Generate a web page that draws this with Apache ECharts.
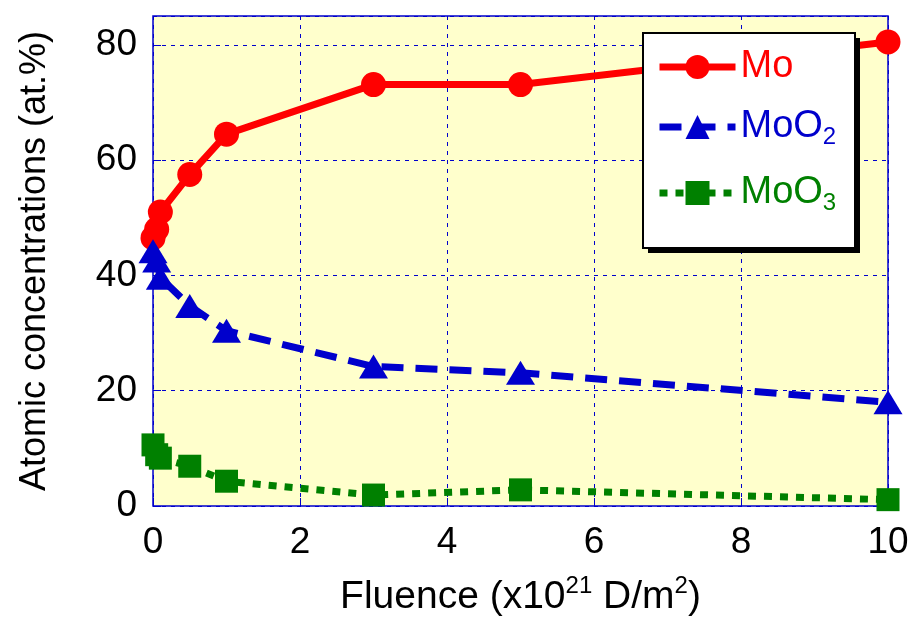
<!DOCTYPE html>
<html lang="en">
<head>
  <meta charset="UTF-8">
  <title>Atomic concentrations vs fluence</title>
  <script src="https://cdn.jsdelivr.net/npm/echarts@6.0.0/dist/echarts.min.js"></script>
  <style>
    body { margin: 0; background: #fff; }
  </style>
</head>
<body>
  <div id="main" style="width: 912px;height:618px;"></div>

  <script type="text/javascript">
    // Fluence values (x10^21 D/m^2)
    const fluence = [0, 0.05, 0.1, 0.5, 1, 3, 5, 10];
    // Atomic concentrations (at.%)
    const mo = [46.5, 48, 51, 57.5, 64.5, 73.1, 73.1, 80.5];
    const moO2 = [44.2, 42.6, 39.6, 34.7, 30.4, 24.2, 23.1, 18];
    const moO3 = [10.6, 8.9, 8.3, 6.9, 4.3, 1.9, 2.8, 1.1];
    const yTicks = [0, 20, 40, 60, 80];

    const pairs = (ys) => fluence.map((x, i) => [x, ys[i]]);

    let myChart = echarts.init(document.getElementById('main'));

    const font = 'Liberation Sans, Arial, sans-serif';

    // one legend per series so each row sits where it does in the original
    const legendRow = (name, color, top) => ({
      orient: 'vertical',
      left: 656,
      top: top,
      z: 200,
      padding: 0,
      itemWidth: 76,
      itemHeight: 30,
      lineStyle: { width: 7 },
      textStyle: {
        fontFamily: font,
        fontSize: 38,
        lineHeight: 44,
        color: color,
        rich: {
          sub: { fontSize: 24, lineHeight: 24, padding: [34, 0, 0, 0], verticalAlign: 'bottom' }
        }
      },
      formatter: (n) => n.replace(/(\d)$/, '{sub|$1}'),
      data: [name]
    });

    let options = {
      animation: false,
      grid: {
        left: 153, right: 24, top: 16, bottom: 112,
        outerBoundsMode: 'none',
        containLabel: false,
        show: true,
        backgroundColor: '#FFFFCC',
        borderColor: '#0000CC',
        borderWidth: 1.5
      },
      // legend frame with its drop shadow
      graphic: {
        elements: [
          { type: 'rect', z: 100, shape: { x: 648, y: 38, width: 212, height: 215 }, style: { fill: '#000' } },
          { type: 'rect', z: 100, shape: { x: 643, y: 33, width: 212, height: 215 },
            style: { fill: '#fff', stroke: '#000', lineWidth: 2 } }
        ]
      },
      legend: [
        legendRow('Mo', '#FF0000', 45),
        legendRow('MoO2', '#0000CC', 91),
        legendRow('MoO3', '#008000', 157)
      ],
      xAxis: {
        type: 'value',
        min: 0, max: 10, interval: 2,
        name: 'Fluence (x10{sup|21} D/m{sup|2})',
        nameLocation: 'middle',
        nameGap: 68,
        nameTextStyle: {
          fontFamily: font, fontSize: 39, color: '#000',
          rich: { sup: { fontSize: 24, padding: [0, 0, 22, 0], verticalAlign: 'top' } }
        },
        axisLine: { show: false },
        axisTick: { inside: true, length: 8, lineStyle: { color: '#0000CC' } },
        axisLabel: { fontFamily: font, fontSize: 37, color: '#000', margin: 18 },
        splitLine: { show: true, lineStyle: { color: '#0000CC', type: [4, 5], width: 1 } }
      },
      yAxis: {
        type: 'value',
        min: 0, max: 85, interval: 20,
        name: 'Atomic concentrations (at.%)',
        nameLocation: 'middle',
        nameGap: 100,
        nameTextStyle: { fontFamily: font, fontSize: 36, color: '#000' },
        axisLine: { show: false },
        axisTick: { inside: true, length: 8, lineStyle: { color: '#0000CC' } },
        axisLabel: {
          fontFamily: font, fontSize: 37, color: '#000', margin: 16,
          showMaxLabel: false,
          formatter: (v) => (yTicks.includes(v) ? String(v) : '')
        },
        splitLine: { show: true, lineStyle: { color: '#0000CC', type: [4, 5], width: 1 } }
      },
      series: [
        {
          name: 'Mo',
          type: 'line',
          data: pairs(mo),
          symbol: 'circle',
          symbolSize: 25,
          itemStyle: { color: '#FF0000' },
          lineStyle: { color: '#FF0000', width: 7, type: 'solid' }
        },
        {
          name: 'MoO2',
          type: 'line',
          data: pairs(moO2),
          symbol: 'triangle',
          symbolSize: [29, 24],
          itemStyle: { color: '#0000CC' },
          lineStyle: { color: '#0000CC', width: 7, type: [22, 12] }
        },
        {
          name: 'MoO3',
          type: 'line',
          data: pairs(moO3),
          symbol: 'rect',
          symbolSize: 23,
          itemStyle: { color: '#008000' },
          lineStyle: { color: '#008000', width: 7, type: [8, 8] }
        }
      ]
    };

    myChart.setOption(options);
  </script>
</body>
</html>
